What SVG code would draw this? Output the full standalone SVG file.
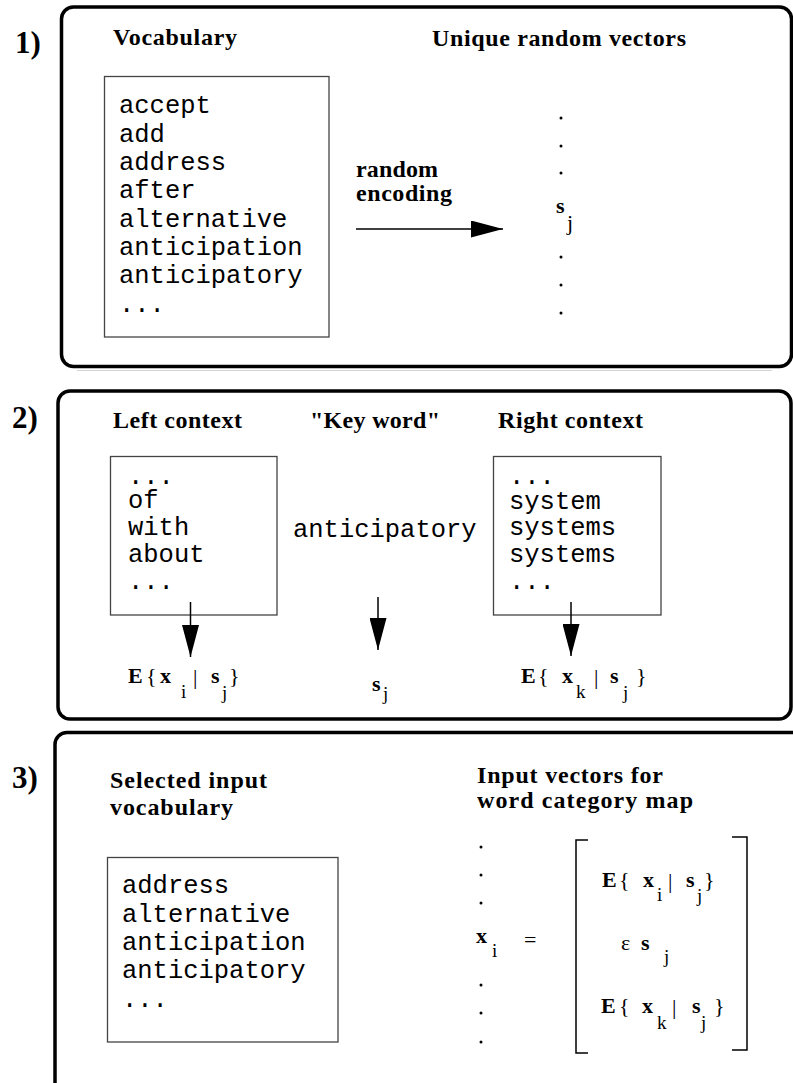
<svg xmlns="http://www.w3.org/2000/svg" width="793" height="1083" viewBox="0 0 793 1083">
  <style>
    .panel { fill: none; stroke: #000; stroke-width: 3.5; }
    .box { fill: none; stroke: #444; stroke-width: 1.3; }
    .num { font-family: "Liberation Serif", serif; font-weight: bold; font-size: 31px; fill: #000; }
    .head { font-family: "Liberation Serif", serif; font-weight: bold; font-size: 24px; fill: #000; }
    .mono { font-family: "Liberation Mono", "Courier New", monospace; font-size: 25.5px; fill: #000; }
    .mb { font-family: "Liberation Serif", serif; font-weight: bold; font-size: 22px; fill: #000; }
    .mr { font-family: "Liberation Serif", serif; font-size: 22px; fill: #000; }
    .sub { font-family: "Liberation Serif", serif; font-size: 19px; fill: #000; }
    .arrow { stroke: #000; stroke-width: 1.5; fill: none; marker-end: url(#head); }
    .bracket { stroke: #000; stroke-width: 1.5; fill: none; }
    .dot { fill: #000; }
  </style>
  <defs>
    <marker id="head" markerUnits="userSpaceOnUse" markerWidth="32" markerHeight="17" refX="32" refY="8.5" orient="auto">
      <path d="M0,0 L32,8.5 L0,17 z" fill="#000"/>
    </marker>
  </defs>
  <rect width="793" height="1083" fill="#fff"/>
  <line x1="77" y1="370.5" x2="772" y2="370.5" stroke="#d4d4d4" stroke-width="1"/>

  <!-- Step 1: vocabulary and random encoding -->
  <g id="step1">
    <rect class="panel" x="61.5" y="7" width="730" height="359.5" rx="12"/>
    <text class="num" x="15" y="53">1)</text>
    <text class="head" x="113" y="45" textLength="124" lengthAdjust="spacing">Vocabulary</text>
    <text class="head" x="432" y="46" textLength="254" lengthAdjust="spacing">Unique random vectors</text>
  </g>
  <g id="vocabulary">
    <rect class="box" x="104.5" y="76.5" width="224.5" height="260.5"/>
    <text class="mono" x="119" y="113">accept</text>
    <text class="mono" x="119" y="142">add</text>
    <text class="mono" x="119" y="170">address</text>
    <text class="mono" x="119" y="198">after</text>
    <text class="mono" x="119" y="227">alternative</text>
    <text class="mono" x="119" y="255">anticipation</text>
    <text class="mono" x="119" y="283">anticipatory</text>
    <text class="mono" x="119" y="312">...</text>
  </g>
  <g id="encoding-label">
    <text class="head" x="356" y="177" textLength="82" lengthAdjust="spacing">random</text>
    <text class="head" x="356" y="201" textLength="96" lengthAdjust="spacing">encoding</text>
  </g>
  <g id="random-vectors">
    <circle class="dot" cx="561" cy="118" r="1.5"/>
    <circle class="dot" cx="561" cy="146" r="1.5"/>
    <circle class="dot" cx="561" cy="173" r="1.5"/>
    <text class="mb" x="556" y="213" font-size="23">s</text>
    <text class="mr" x="567" y="230" font-size="23">j</text>
    <circle class="dot" cx="561" cy="257" r="1.5"/>
    <circle class="dot" cx="561" cy="285" r="1.5"/>
    <circle class="dot" cx="561" cy="313" r="1.5"/>
  </g>

  <!-- Step 2: context averaging -->
  <g id="step2">
    <rect class="panel" x="58" y="391" width="733" height="328" rx="12"/>
    <text class="num" x="12" y="428">2)</text>
    <text class="head" x="113" y="428" textLength="129" lengthAdjust="spacing">Left context</text>
    <text class="head" x="310" y="428" textLength="130" lengthAdjust="spacing">"Key word"</text>
    <text class="head" x="498" y="428" textLength="145" lengthAdjust="spacing">Right context</text>
  </g>
  <g id="left-context">
    <rect class="box" x="110.5" y="456.5" width="166.5" height="158.5"/>
    <text class="mono" x="128" y="484" font-size="24.5">...</text>
    <text class="mono" x="128" y="508" font-size="24.5">of</text>
    <text class="mono" x="128" y="535" font-size="24.5">with</text>
    <text class="mono" x="128" y="562" font-size="24.5">about</text>
    <text class="mono" x="128" y="589" font-size="24.5">...</text>
  </g>
  <g id="key-word">
    <text class="mono" x="293" y="537" font-size="25">anticipatory</text>
  </g>
  <g id="right-context">
    <rect class="box" x="493.5" y="456.5" width="167.5" height="158.5"/>
    <text class="mono" x="509" y="484" font-size="24.5">...</text>
    <text class="mono" x="509" y="509" font-size="24.5">system</text>
    <text class="mono" x="509" y="535" font-size="24.5">systems</text>
    <text class="mono" x="509" y="562" font-size="24.5">systems</text>
    <text class="mono" x="509" y="589" font-size="24.5">...</text>
  </g>
  <g id="left-average">
    <text class="mb" x="128" y="683">E</text>
    <text class="mr" x="146" y="683">{</text>
    <text class="mb" x="160" y="683">x</text>
    <text class="sub" x="181" y="698">i</text>
    <text class="mr" x="193" y="684">|</text>
    <text class="mb" x="211" y="683">s</text>
    <text class="sub" x="222" y="699">j</text>
    <text class="mr" x="229" y="683">}</text>
  </g>
  <g id="key-vector">
    <text class="mb" x="372" y="691">s</text>
    <text class="sub" x="383" y="700">j</text>
  </g>
  <g id="right-average">
    <text class="mb" x="521" y="683">E</text>
    <text class="mr" x="538" y="683">{</text>
    <text class="mb" x="562" y="683">x</text>
    <text class="sub" x="576" y="698">k</text>
    <text class="mr" x="594" y="684">|</text>
    <text class="mb" x="610" y="683">s</text>
    <text class="sub" x="623" y="699">j</text>
    <text class="mr" x="636" y="683">}</text>
  </g>

  <!-- Step 3: selected vocabulary and input vectors -->
  <g id="step3">
    <rect class="panel" x="55" y="732.5" width="780" height="420" rx="12"/>
    <text class="num" x="12" y="788">3)</text>
    <text class="head" x="110" y="788" textLength="157" lengthAdjust="spacing">Selected input</text>
    <text class="head" x="110" y="815" textLength="123" lengthAdjust="spacing">vocabulary</text>
    <text class="head" x="477" y="783" textLength="186" lengthAdjust="spacing">Input vectors for</text>
    <text class="head" x="477" y="808" textLength="216" lengthAdjust="spacing">word category map</text>
  </g>
  <g id="selected-vocabulary">
    <rect class="box" x="107.5" y="857.5" width="230.5" height="184.5"/>
    <text class="mono" x="122" y="893" font-size="26">address</text>
    <text class="mono" x="122" y="922" font-size="26">alternative</text>
    <text class="mono" x="122" y="950" font-size="26">anticipation</text>
    <text class="mono" x="122" y="978" font-size="26">anticipatory</text>
    <text class="mono" x="122" y="1007" font-size="26">...</text>
  </g>
  <g id="input-vectors">
    <circle class="dot" cx="481" cy="847" r="1.5"/>
    <circle class="dot" cx="481" cy="875" r="1.5"/>
    <circle class="dot" cx="481" cy="903" r="1.5"/>
    <text class="mb" x="476" y="943">x</text>
    <text class="sub" x="492" y="957">i</text>
    <text class="mr" x="524" y="947" font-size="26">=</text>
    <circle class="dot" cx="481" cy="985" r="1.5"/>
    <circle class="dot" cx="481" cy="1013" r="1.5"/>
    <circle class="dot" cx="481" cy="1042" r="1.5"/>
    <path class="bracket" d="M588,840 H576 V1053 H588"/>
    <path class="bracket" d="M732,837 H747 V1050 H732"/>
    <!-- row 1 -->
    <text class="mb" x="602" y="887">E</text>
    <text class="mr" x="619" y="887">{</text>
    <text class="mb" x="643" y="887">x</text>
    <text class="sub" x="657" y="901">i</text>
    <text class="mr" x="668" y="888">|</text>
    <text class="mb" x="686" y="887">s</text>
    <text class="sub" x="697" y="902">j</text>
    <text class="mr" x="704" y="887">}</text>
    <!-- row 2 -->
    <text class="mr" x="621" y="950" font-size="27">ε</text>
    <text class="mb" x="641" y="950" font-size="23">s</text>
    <text class="sub" x="664" y="963">j</text>
    <!-- row 3 -->
    <text class="mb" x="601" y="1013">E</text>
    <text class="mr" x="619" y="1013">{</text>
    <text class="mb" x="642" y="1013">x</text>
    <text class="sub" x="657" y="1029">k</text>
    <text class="mr" x="672" y="1014">|</text>
    <text class="mb" x="692" y="1013">s</text>
    <text class="sub" x="701" y="1029">j</text>
    <text class="mr" x="714" y="1013">}</text>
  </g>

  <!-- Connectors -->
  <g id="connectors">
    <line class="arrow" x1="356" y1="229" x2="503" y2="229"/>
    <line class="arrow" x1="190.5" y1="602" x2="190.5" y2="657"/>
    <line class="arrow" x1="378" y1="597" x2="378" y2="650"/>
    <line class="arrow" x1="571" y1="602" x2="571" y2="656"/>
  </g>
</svg>
